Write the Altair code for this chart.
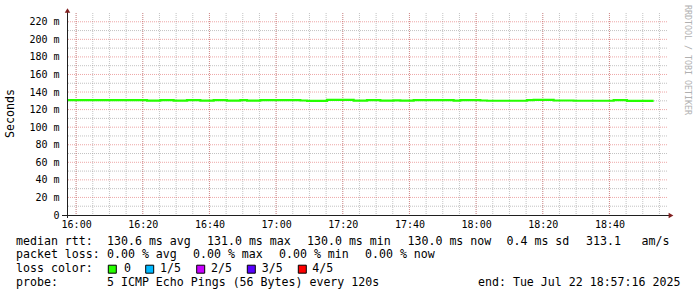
import altair as alt
import pandas as pd
from datetime import datetime, timedelta

# ---------------- data ----------------
start_time = "2025-07-22T15:57:16"
end_time = "2025-07-22T18:57:16"
step_minutes = 2
# median rtt (ms), one value per 2-minute step (last value closes the step line)
rtt_ms = [
    130.9, 130.9, 130.9, 130.9, 130.9, 130.9, 130.9, 130.9, 130.9, 130.9, 130.9, 130.9,
    130.3, 130.3, 130.9, 130.9, 130.3, 130.3, 130.9, 130.9, 130.3, 130.3, 130.9, 130.9,
    130.3, 130.3, 130.9, 130.3, 130.3, 130.9, 130.9, 130.9, 130.9, 130.9, 130.9, 130.4,
    130.0, 130.0, 130.0, 131.0, 131.0, 131.0, 131.0, 130.3, 130.3, 130.9, 130.9, 130.3,
    130.3, 130.6, 130.3, 130.3, 130.9, 130.9, 130.9, 130.9, 130.9, 130.9, 130.3, 130.9,
    130.9, 130.9, 130.4, 130.1, 130.1, 130.1, 130.1, 130.1, 130.1, 130.7, 131.0, 131.0,
    131.0, 130.4, 130.4, 130.4, 130.1, 130.1, 130.1, 130.1, 130.1, 130.1, 130.8, 130.8,
    130.0, 130.0, 130.0, 130.0, 130.0,
]
x_tick_labels = ["16:00", "16:20", "16:40", "17:00", "17:20", "17:40", "18:00", "18:20", "18:40"]
x_minor_labels = ["16:00", "16:05", "16:10", "16:15", "16:20", "16:25", "16:30", "16:35", "16:40",
                  "16:45", "16:50", "16:55", "17:00", "17:05", "17:10", "17:15", "17:20", "17:25",
                  "17:30", "17:35", "17:40", "17:45", "17:50", "17:55", "18:00", "18:05", "18:10",
                  "18:15", "18:20", "18:25", "18:30", "18:35", "18:40", "18:45", "18:50", "18:55"]
y_ticks = [0, 20, 40, 60, 80, 100, 120, 140, 160, 180, 200, 220]
y_minor = [10, 30, 50, 70, 90, 110, 130, 150, 170, 190, 210]
y_max = 230

rtt_stats = {"avg": 130.6, "max": 131.0, "min": 130.0, "now": 130.0}
rtt_sd = 0.4
rtt_ams = 313.1
loss_stats = {"avg": 0.00, "max": 0.00, "min": 0.00, "now": 0.00}
loss_labels = ["0", "1/5", "2/5", "3/5", "4/5"]
loss_colors = ["#26ff00", "#00b8ff", "#c800ff", "#5800ff", "#ff0000"]
probe_text = "5 ICMP Echo Pings (56 Bytes) every 120s"
end_text = "end: Tue Jul 22 18:57:16 2025"
y_title = "Seconds"
watermark = "RRDTOOL / TOBI OETIKER"

# ---------------- tables ----------------
t0 = datetime.fromisoformat(start_time)
times = [(t0 + timedelta(minutes=step_minutes * i)).strftime("%Y-%m-%dT%H:%M:%S")
         for i in range(len(rtt_ms))]
df = pd.DataFrame({"t": times, "rtt": rtt_ms})

day = "2025-07-22T"
df_xmaj = pd.DataFrame({"t": [day + s + ":00" for s in x_tick_labels]})
df_xmin = pd.DataFrame({"t": [day + s + ":00" for s in x_minor_labels]})
df_ymaj = pd.DataFrame({"rtt": y_ticks[1:]})
df_ymin = pd.DataFrame({"rtt": y_minor})


def dt(s):
    d = datetime.fromisoformat(s)
    return alt.DateTime(year=d.year, month=d.month, date=d.day,
                        hours=d.hour, minutes=d.minute, seconds=d.second)


x_scale = alt.Scale(domain=[dt(start_time), dt(end_time)], nice=False)
y_scale = alt.Scale(domain=[0, y_max], nice=False, zero=True)

FONT = "DejaVu Sans Mono"
W, H = 600, 202

x_axis = alt.Axis(values=[dt(day + s + ":00") for s in x_tick_labels], format="%H:%M",
                  grid=False, ticks=False, domain=False, labelPadding=4,
                  labelFont=FONT, labelFontSize=10, labelColor="#000000")
y_axis = alt.Axis(values=y_ticks, grid=False, ticks=False, domain=False, labelPadding=8,
                  labelExpr="datum.value == 0 ? '0\u00a0\u00a0' : datum.value + ' m'",
                  labelFont=FONT, labelFontSize=10, labelColor="#000000",
                  titleFont=FONT, titleFontSize=11.6, titleFontWeight="normal",
                  titleColor="#000000", titleX=-57, titleY=H / 2 - 1, titleAngle=-90,
                  titleAlign="center", titleBaseline="middle")

X = lambda: alt.X("t:T", scale=x_scale, title=None, axis=x_axis)
Y = lambda: alt.Y("rtt:Q", scale=y_scale, title=y_title, axis=y_axis)

minor_col = "#8f8f8f"
major_col = "#de4f4f"

grid_xmin = alt.Chart(df_xmin).mark_rule(color=minor_col, opacity=0.55, strokeDash=[1, 1], strokeWidth=1).encode(x=X())
grid_ymin = alt.Chart(df_ymin).mark_rule(color=minor_col, opacity=0.55, strokeDash=[1, 1], strokeWidth=1).encode(y=Y())
grid_xmaj = alt.Chart(df_xmaj).mark_rule(color=major_col, opacity=0.5, strokeDash=[1, 1], strokeWidth=1).encode(x=X())
grid_ymaj = alt.Chart(df_ymaj).mark_rule(color=major_col, opacity=0.5, strokeDash=[1, 1], strokeWidth=1).encode(y=Y())

line = alt.Chart(df).mark_line(interpolate="step-after", color=loss_colors[0], strokeWidth=2.2).encode(
    x=X(), y=Y())

one = alt.Data(values=[{"a": 1}])
axis_col = "#1f1f1f"
arrow_col = "#801f1f"
deco = [
    alt.Chart(one).mark_rule(color=axis_col, strokeWidth=1).encode(
        x=alt.value(0.5), y=alt.value(-3), y2=alt.value(H + 3)),
    alt.Chart(one).mark_rule(color=axis_col, strokeWidth=1).encode(
        x=alt.value(-5), x2=alt.value(W + 3), y=alt.value(H + 0.5)),
    alt.Chart(one).mark_point(shape="triangle-up", filled=True, color=arrow_col, size=30, opacity=1).encode(
        x=alt.value(0.5), y=alt.value(-2.5)),
    alt.Chart(one).mark_point(shape="triangle-right", filled=True, color=arrow_col, size=30, opacity=1).encode(
        x=alt.value(W + 4), y=alt.value(H + 0.5)),
    alt.Chart(one).mark_text(font=FONT, fontSize=8.3, color="#b0b0b0", angle=90, align="center",
                             baseline="middle").encode(
        x=alt.value(686.5 - 67), y=alt.value(60 - 13), text=alt.value(watermark)),
]

# legend text chunks (absolute pixel positions converted to plot coordinates)
OX, OY = 67, 13
rows_y = [241.7, 255.0, 269.2, 282.7]
chunks = [
    ("median rtt:", 16, 0),
    (f"{rtt_stats['avg']:.1f} ms avg", 107, 0),
    (f"{rtt_stats['max']:.1f} ms max", 207, 0),
    (f"{rtt_stats['min']:.1f} ms min", 307, 0),
    (f"{rtt_stats['now']:.1f} ms now", 407.5, 0),
    (f"{rtt_sd:.1f} ms sd", 506.5, 0),
    (f"{rtt_ams:.1f}", 586, 0),
    ("am/s", 641.5, 0),
    ("packet loss:", 16, 1),
    (f"{loss_stats['avg']:.2f} % avg", 107, 1),
    (f"{loss_stats['max']:.2f} % max", 193, 1),
    (f"{loss_stats['min']:.2f} % min", 279, 1),
    (f"{loss_stats['now']:.2f} % now", 365, 1),
    ("loss color:", 16, 2),
    ("probe:", 16, 3),
    (probe_text, 107, 3),
    (end_text, 478, 3),
]
box_x = [112.3, 149.7, 200.7, 251.3, 302.3]
lab_x = [124, 160, 211, 261.7, 312.3]
for lbl, lx in zip(loss_labels, lab_x):
    chunks.append((lbl, lx, 2))

legend_layers = []
for txt, px, row in chunks:
    legend_layers.append(
        alt.Chart(one).mark_text(font=FONT, fontSize=11.6, color="#000000", align="left",
                                 baseline="middle").encode(
            x=alt.value(px - OX), y=alt.value(rows_y[row] - OY), text=alt.value(txt)))
for col, bx in zip(loss_colors, box_x):
    legend_layers.append(
        alt.Chart(one).mark_square(size=64, fill=col, stroke="#000000", strokeWidth=1, opacity=1).encode(
            x=alt.value(bx - OX), y=alt.value(rows_y[2] - OY)))

chart = alt.layer(grid_xmin, grid_ymin, grid_xmaj, grid_ymaj, line, *deco, *legend_layers).properties(
    width=W, height=H,
    padding={"left": OX, "top": OY, "right": 697 - OX - W, "bottom": 297 - OY - H},
    autosize="none",
    background="#ffffff",
).configure_view(stroke=None)

chart.save("out.html", embed_options={"renderer": "svg", "actions": False})
